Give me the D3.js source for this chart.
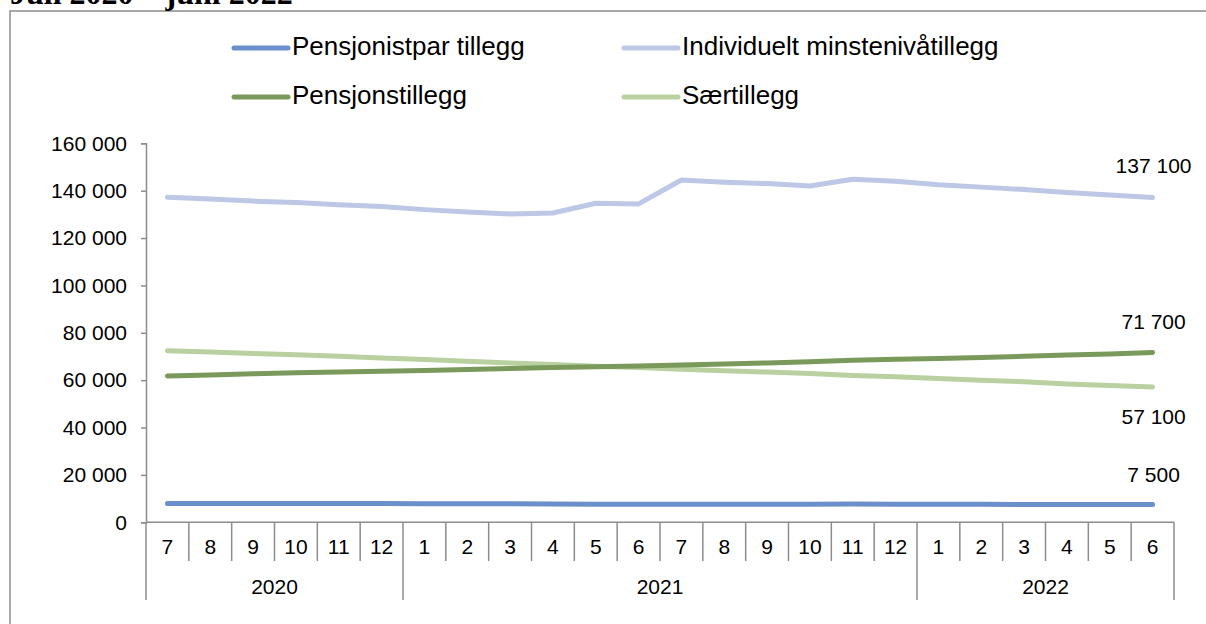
<!DOCTYPE html>
<html><head><meta charset="utf-8">
<script src="https://cdn.jsdelivr.net/npm/d3@7"></script>
<style>body{margin:0;background:#fff}svg{display:block}</style>
</head><body>
<svg id="c" width="1206" height="624"></svg>
<script>
const title = "Juli 2020 – juni 2022";
const months = ["7","8","9","10","11","12","1","2","3","4","5","6","7","8","9","10","11","12","1","2","3","4","5","6"];
const years = [{label:"2020", start:0, end:6},{label:"2021", start:6, end:18},{label:"2022", start:18, end:24}];
const yTicks = [0,20000,40000,60000,80000,100000,120000,140000,160000];
const seriesNames = ["Pensjonistpar tillegg","Individuelt minstenivåtillegg","Pensjonstillegg","Særtillegg"];
const seriesColors = ["#6b8fca","#bdc7e6","#7a9a5c","#b9d1a0"];
const pensjonistpar = [7900,7900,7900,7900,7900,7900,7800,7800,7800,7700,7600,7600,7600,7600,7600,7600,7700,7600,7600,7600,7500,7500,7500,7500];
const individuelt = [137200,136500,135600,135000,134100,133300,132000,131000,130200,130600,134700,134400,144500,143600,143000,142000,144800,144000,142500,141500,140500,139200,138200,137100];
const pensjonstillegg = [61800,62200,62700,63100,63500,63800,64100,64500,64900,65300,65700,66000,66400,66800,67300,67800,68400,68800,69200,69600,70100,70600,71100,71700];
const saertillegg = [72400,71900,71300,70700,70100,69400,68700,68000,67300,66600,65900,65300,64600,64000,63400,62800,62000,61400,60700,60000,59300,58400,57800,57100];
const seriesData = [pensjonistpar, individuelt, pensjonstillegg, saertillegg];
const endLabels = ["7 500","137 100","71 700","57 100"];
const endLabelDy = [-28, -30, -29, 31];

const svg = d3.select("#c");
const axisColor = "#8c8c8c";
const fontSans = "'Liberation Sans', Arial, sans-serif";
const pLeft = 146, pRight = 1174, pTop = 143.3, pBottom = 522.3;

const x = d3.scaleBand().domain(d3.range(months.length)).range([pLeft, pRight]);
const y = d3.scaleLinear().domain([0,160000]).range([pBottom, pTop]);
const fmt = v => d3.format(",")(v).replace(/,/g, " ");

// frame
svg.append("path").attr("d", `M10,624 L10,11 L1206,11`).attr("fill","none").attr("stroke",axisColor).attr("stroke-width",1.5);

// title (partially cropped, as in the reference)
svg.append("text").attr("x",10).attr("y",4).text(title)
  .attr("font-family","'Liberation Serif','Times New Roman',serif").attr("font-weight","bold").attr("font-size",32).attr("fill","#000");

// y axis
const yAxis = d3.axisLeft(y).tickValues(yTicks).tickSize(5).tickPadding(14).tickFormat(fmt);
const gy = svg.append("g").attr("transform",`translate(${pLeft},0)`).call(yAxis);
gy.select(".domain").attr("stroke",axisColor).attr("stroke-width",1.5);
gy.selectAll(".tick line").attr("stroke",axisColor).attr("stroke-width",1.5);
gy.selectAll(".tick text").attr("font-family",fontSans).attr("font-size",21).attr("fill","#000");

// x axis (months)
const xAxis = d3.axisBottom(x).tickSize(0).tickPadding(0).tickFormat(i => months[i]);
const gx = svg.append("g").attr("transform",`translate(0,${pBottom})`).call(xAxis);
gx.select(".domain").attr("d",`M${pLeft},0H${pRight}`).attr("stroke",axisColor).attr("stroke-width",1.5);
gx.selectAll(".tick text").attr("font-family",fontSans).attr("font-size",21).attr("fill","#000").attr("dy",null).attr("y",26).attr("dominant-baseline","middle");

// month separators
const boundaries = d3.range(months.length + 1);
svg.append("g").selectAll("line").data(boundaries).join("line")
  .attr("x1", i => i < months.length ? x(i) : x(months.length-1) + x.bandwidth())
  .attr("x2", i => i < months.length ? x(i) : x(months.length-1) + x.bandwidth())
  .attr("y1", pBottom)
  .attr("y2", i => (years.some(yr => yr.start === i) || i === months.length) ? 600 : 561)
  .attr("stroke",axisColor).attr("stroke-width",1.5);

// year labels
svg.append("g").selectAll("text").data(years).join("text")
  .attr("x", d => (x(d.start) + (x(d.end-1) + x.bandwidth()))/2)
  .attr("y", 588).attr("text-anchor","middle").attr("dominant-baseline","middle")
  .attr("font-family",fontSans).attr("font-size",21).attr("fill","#000")
  .text(d => d.label);

// lines
const line = d3.line().x((d,i) => x(i) + x.bandwidth()/2).y(d => y(d));
const drawOrder = [3,2,1,0];
drawOrder.forEach(s => {
  svg.append("path").datum(seriesData[s]).attr("d", line)
    .attr("fill","none").attr("stroke",seriesColors[s]).attr("stroke-width",5)
    .attr("stroke-linecap","round").attr("stroke-linejoin","round");
});

// end labels
seriesData.forEach((d,s) => {
  const n = d.length - 1;
  svg.append("text").attr("x", x(n) + x.bandwidth()/2 + 1).attr("y", y(d[n]) + endLabelDy[s])
    .attr("text-anchor","middle").attr("dominant-baseline","middle")
    .attr("font-family",fontSans).attr("font-size",21).attr("fill","#000").text(endLabels[s]);
});

// legend
const legendPos = [[232,48],[622,48],[232,97],[622,97]];
seriesNames.forEach((name,s) => {
  const [lx,ly] = legendPos[s];
  svg.append("line").attr("x1",lx+2).attr("x2",lx+56).attr("y1",ly).attr("y2",ly)
    .attr("stroke",seriesColors[s]).attr("stroke-width",5).attr("stroke-linecap","round");
  svg.append("text").attr("x",lx+60).attr("y",ly).attr("dominant-baseline","middle")
    .attr("font-family",fontSans).attr("font-size",26).attr("fill","#000").text(name);
});
</script>
</body></html>
